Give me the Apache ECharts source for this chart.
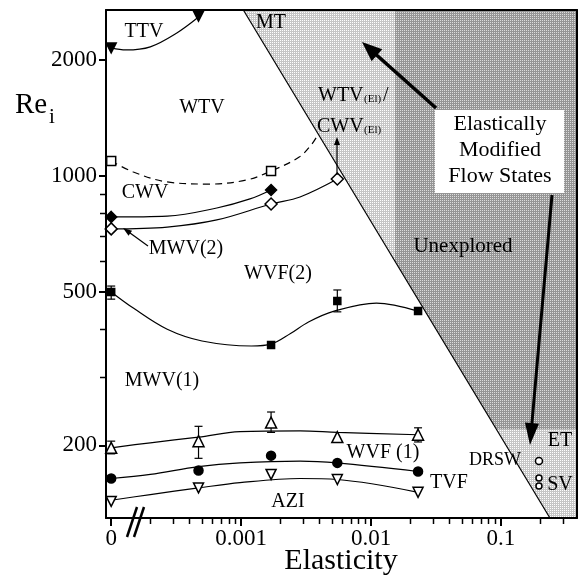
<!DOCTYPE html>
<html>
<head>
<meta charset="utf-8" />
<title>Re_i vs Elasticity</title>
<style>
  html, body { margin: 0; padding: 0; background: #fff; }
  #chart { width: 579px; height: 587px; }
</style>
</head>
<body>
<div id="chart"></div>
<script src="https://cdn.jsdelivr.net/npm/echarts@6.0.0/dist/echarts.min.js"></script>
<script>
// ---- data (elasticity, Re_i) ----
var ttvPts   = [[0, 2150], [0.00047, 2600]];
var ttvFit   = [[0, 2150], [0.00013, 2124], [0.0002, 2164], [0.00032, 2351], [0.00047, 2586]];
var cwvPts   = [[0, 1094], [0.0017, 1030]];
var cwvFit   = [[0, 1094], [0.000148, 1024], [0.00027, 965], [0.00058, 953], [0.00111, 977], [0.0017, 1030], [0.0028, 1120], [0.0035, 1210], [0.0039, 1280]];
var fdPts    = [[0, 783], [0.0017, 920]];
var fdFit    = [[0, 783], [0.00027, 787], [0.00065, 826], [0.00117, 872], [0.0017, 920]];
var mwv2Pts  = [[0, 729], [0.0017, 846], [0.0055, 982]];
var mwv2Fit  = [[0, 729], [0.00027, 737], [0.00065, 769], [0.0017, 846], [0.00284, 882], [0.0055, 982]];
var wvf2Pts  = [[0, 500], [0.0017, 364], [0.0055, 474], [0.023, 446]];
var wvf2Err  = [[0, 479, 518], [0.0055, 444, 506]];
var wvf2Fit  = [[0, 500], [0.000148, 454], [0.00027, 400], [0.0005, 373], [0.0012, 362], [0.0017, 366], [0.0024, 390], [0.0033, 418], [0.0052, 446], [0.011, 468], [0.023, 446]];
var wvf1Pts  = [[0, 197], [0.00047, 205], [0.0017, 229], [0.0055, 210], [0.023, 213]];
var wvf1Err  = [[0, 190, 205], [0.00047, 185, 224], [0.0017, 216, 244], [0.023, 204, 222]];
var wvf1Fit  = [[0, 197], [0.0002, 203], [0.00047, 210], [0.00098, 217], [0.00284, 218], [0.0055, 216], [0.023, 213]];
var tvfPts   = [[0, 164], [0.00047, 172], [0.0017, 188], [0.0055, 180], [0.023, 171]];
var tvfFit   = [[0, 164], [0.0002, 168], [0.00047, 176], [0.00098, 180], [0.00284, 182], [0.0055, 180], [0.023, 171]];
var aziPts   = [[0, 143], [0.00047, 155], [0.0017, 168], [0.0055, 163], [0.023, 151]];
var aziFit   = [[0, 144], [0.0002, 149], [0.00047, 155], [0.00098, 160], [0.00284, 164], [0.0055, 163], [0.023, 151]];
var etPts    = [[0.196, 182]];
var svPts    = [[0.196, 164.5], [0.196, 156.8]];
var diagLine = [[0.00104, 2697], [0.238, 129.5]];
var mtEdge   = 0.0153;   // light / dark boundary (elasticity)
var etEdge   = 220;      // dark / light boundary at bottom right (Re)

var xMajor   = [-4, -3, -2, -1];
var xLabels  = { '-4': '0', '-3': '0.001', '-2': '0.01', '-1': '0.1' };
var xMinorMul = [2, 3, 4, 5, 6, 7, 8, 9];
var yMajor   = [200, 500, 1000, 2000];
var yMinor   = [300, 400, 600, 700, 800, 900];

// ---- axis mapping: log10 both ways, zero drawn one decade left of 0.001 ----
var ZERO_POS = -4;
var xRange = [-4.04, -0.415];
var reRange = [129.5, 2697];
function xp(e) { return e === 0 ? ZERO_POS : Math.log10(e); }
function yp(r) { return Math.log10(r); }
function toXY(arr) { return arr.map(function (p) { return [xp(p[0]), yp(p[1])]; }); }

var xMinor = [];
[-4, -3, -2, -1].forEach(function (d) {
  xMinorMul.forEach(function (k) {
    var v = Math.log10(k) + d;
    if (v < xRange[1]) xMinor.push(v);
  });
});

var FONT = '"Liberation Serif", "Times New Roman", serif';

function pattern(c1, c2) {
  var cv = document.createElement('canvas');
  cv.width = 2; cv.height = 2;
  var ctx = cv.getContext('2d');
  ctx.fillStyle = c2; ctx.fillRect(0, 0, 2, 2);
  ctx.fillStyle = c1; ctx.fillRect(0, 0, 1, 1);
  return { image: cv, repeat: 'repeat' };
}
var lightFill = pattern('#ffffff', '#c6c6c6');
var darkFill = pattern('#dcdcdc', '#959595');

var regions = [
  { fill: lightFill, pts: [[1e-5, 1e4], [1, 1e4], [1, 100], [1e-5, 100]] },
  { fill: darkFill,  pts: [[mtEdge, 1e4], [1, 1e4], [1, etEdge], [mtEdge, etEdge]] },
  { fill: '#ffffff', pts: [[1e-5, 1e4], [diagLine[0][0], 1e4], diagLine[0], diagLine[1], [diagLine[1][0], 100], [1e-5, 100]] }
];

function curve(data, dashed) {
  return {
    type: 'line', data: toXY(data), smooth: 0.35, symbol: 'none', z: 3, silent: true,
    lineStyle: { color: '#000', width: 1.2, type: dashed ? [7, 5] : 'solid' }
  };
}
function pts(data, symbol, size, filled, rotate) {
  return {
    type: 'scatter', data: toXY(data), symbol: symbol, symbolSize: size, symbolRotate: rotate || 0, z: 5,
    itemStyle: { color: filled ? '#000' : '#fff', borderColor: '#000', borderWidth: 1.5, opacity: 1 }
  };
}
function errBars(data) {
  return {
    type: 'custom', z: 4, silent: true,
    data: data.map(function (d) { return [xp(d[0]), yp(d[1]), yp(d[2])]; }),
    encode: { x: 0, y: [1, 2] },
    renderItem: function (params, api) {
      var lo = api.coord([api.value(0), api.value(1)]);
      var hi = api.coord([api.value(0), api.value(2)]);
      var w = 4, st = { stroke: '#000', lineWidth: 1.2 };
      return { type: 'group', children: [
        { type: 'line', shape: { x1: lo[0], y1: lo[1], x2: hi[0], y2: hi[1] }, style: st },
        { type: 'line', shape: { x1: lo[0] - w, y1: lo[1], x2: lo[0] + w, y2: lo[1] }, style: st },
        { type: 'line', shape: { x1: hi[0] - w, y1: hi[1], x2: hi[0] + w, y2: hi[1] }, style: st }
      ]};
    }
  };
}

function txt(s, x, y, size, align) {
  return { type: 'text', x: x, y: y, z: 100,
    style: { text: s, fontSize: size, fontFamily: FONT, fill: '#000', align: align || 'center', verticalAlign: 'middle' } };
}
function arrow(x1, y1, x2, y2, w, hl, hw) {
  var dx = x2 - x1, dy = y2 - y1, L = Math.sqrt(dx * dx + dy * dy);
  var ux = dx / L, uy = dy / L, bx = x2 - ux * hl, by = y2 - uy * hl;
  return { type: 'group', z: 100, children: [
    { type: 'line', z: 100, shape: { x1: x1, y1: y1, x2: bx + ux * 2, y2: by + uy * 2 }, style: { stroke: '#000', lineWidth: w } },
    { type: 'polygon', z: 100, shape: { points: [[x2, y2], [bx - uy * hw / 2, by + ux * hw / 2], [bx + uy * hw / 2, by - ux * hw / 2]] }, style: { fill: '#000' } }
  ]};
}

var frameLine = { lineStyle: { color: '#000', width: 2 } };

var annotations = [
  txt('Re', 15, 105, 29, 'left'),
  txt('i', 49, 117, 21, 'left'),
  txt('Elasticity', 341, 561, 30),
  txt('TTV', 144, 32, 20),
  txt('MT', 271, 23, 20),
  txt('WTV', 202, 108, 20),
  txt('CWV', 145, 193, 20),
  txt('MWV(2)', 186, 249, 20),
  txt('WVF(2)', 278, 274, 20),
  txt('MWV(1)', 162, 381, 20),
  txt('WVF (1)', 383, 453, 20),
  txt('TVF', 449, 483, 20),
  txt('AZI', 288, 502, 20),
  txt('DRSW', 495, 460, 18),
  txt('ET', 560, 441, 20),
  txt('SV', 560, 485, 20),
  txt('Unexplored', 463, 246, 21),
  txt('WTV', 318, 96, 20, 'left'),
  txt('(El)', 364, 99, 11, 'left'),
  txt('/', 383, 96, 20, 'left'),
  txt('CWV', 317, 127, 20, 'left'),
  txt('(El)', 364, 130, 11, 'left'),
  { type: 'rect', z: 99, shape: { x: 435, y: 110, width: 129, height: 83 }, style: { fill: '#fff' } },
  txt('Elastically', 500, 124, 22),
  txt('Modified', 500, 150, 22),
  txt('Flow States', 500, 176, 22),
  arrow(436, 108, 362, 42, 3.5, 20, 16),
  arrow(552, 195, 530, 445, 3, 22, 14),
  arrow(148, 246, 123, 228, 1.2, 9, 6),
  arrow(337, 175, 337, 137, 1.2, 8, 6),
  { type: 'line', z: 100, shape: { x1: 127, y1: 537, x2: 137, y2: 507 }, style: { stroke: '#000', lineWidth: 2.5 } },
  { type: 'line', z: 100, shape: { x1: 134, y1: 537, x2: 144, y2: 507 }, style: { stroke: '#000', lineWidth: 2.5 } }
];

var chart = echarts.init(document.getElementById('chart'));
var option = {
  animation: false,
  backgroundColor: '#fff',
  grid: { left: 106, right: 2, top: 10, bottom: 69 },
  xAxis: [
    { type: 'value', min: xRange[0], max: xRange[1], position: 'bottom', z: 11,
      axisLine: frameLine,
      axisTick: { show: true, customValues: xMajor, length: 8, lineStyle: { color: '#000', width: 2 } },
      axisLabel: { customValues: xMajor, margin: 9, fontSize: 23, fontFamily: FONT, color: '#000',
        formatter: function (v) { return xLabels[String(Math.round(v))]; } },
      splitLine: { show: false } },
    { type: 'value', min: xRange[0], max: xRange[1], position: 'top', z: 10,
      axisLine: frameLine,
      axisTick: { show: false }, axisLabel: { show: false }, splitLine: { show: false } }
  ],
  yAxis: [
    { type: 'value', min: yp(reRange[0]), max: yp(reRange[1]), position: 'left', z: 11,
      axisLine: frameLine,
      axisTick: { show: true, customValues: yMajor.map(yp), length: 7, lineStyle: { color: '#000', width: 2 } },
      axisLabel: { customValues: yMajor.map(yp), margin: 9, fontSize: 23, fontFamily: FONT, color: '#000',
        formatter: function (v) { return String(Math.round(Math.pow(10, v))); } },
      splitLine: { show: false } },
    { type: 'value', min: yp(reRange[0]), max: yp(reRange[1]), position: 'right', z: 10,
      axisLine: frameLine,
      axisTick: { show: false }, axisLabel: { show: false }, splitLine: { show: false } }
  ],
  series: [
    { type: 'custom', z: 1, silent: true, clip: true,
      data: regions.map(function (r, i) { return [i]; }),
      renderItem: function (params, api) {
        var r = regions[params.dataIndex];
        return { type: 'polygon', shape: { points: r.pts.map(function (p) { return api.coord([xp(p[0]), yp(p[1])]); }) },
          style: { fill: r.fill } };
      } },
    { type: 'line', data: toXY(diagLine), symbol: 'none', z: 2, silent: true,
      lineStyle: { color: '#000', width: 1.2 } },
    curve(ttvFit), curve(cwvFit, true), curve(fdFit), curve(mwv2Fit), curve(wvf2Fit),
    curve(wvf1Fit), curve(tvfFit), curve(aziFit),
    errBars(wvf2Err), errBars(wvf1Err),
    pts(ttvPts, 'triangle', 10, true, 180),
    pts(cwvPts, 'rect', 9, false),
    pts(fdPts, 'diamond', 11, true),
    pts(mwv2Pts, 'diamond', 12, false),
    pts(wvf2Pts, 'rect', 7, true),
    pts(wvf1Pts, 'triangle', 11, false),
    pts(tvfPts, 'circle', 9, true),
    pts(aziPts, 'triangle', 10, false, 180),
    pts(etPts, 'circle', 7, false),
    pts(svPts, 'circle', 6, false)
  ],
  graphic: annotations
};
chart.setOption(option);

// minor log ticks: positions come from the axis scales after layout
var tickEls = [];
var axisBottom = chart.convertToPixel({ yAxisIndex: 0 }, yp(reRange[0]));
var axisLeft = chart.convertToPixel({ xAxisIndex: 0 }, xRange[0]);
xMinor.forEach(function (v) {
  var px = Math.round(chart.convertToPixel({ xAxisIndex: 0 }, v)) + 0.5;
  tickEls.push({ type: 'line', z: 120, silent: true,
    shape: { x1: px, y1: axisBottom, x2: px, y2: axisBottom + 6 },
    style: { stroke: '#000', lineWidth: 1.5 } });
});
yMinor.forEach(function (r) {
  var py = Math.round(chart.convertToPixel({ yAxisIndex: 0 }, yp(r))) + 0.5;
  tickEls.push({ type: 'line', z: 120, silent: true,
    shape: { x1: axisLeft, y1: py, x2: axisLeft - 6, y2: py },
    style: { stroke: '#000', lineWidth: 1.5 } });
});
chart.setOption({ graphic: annotations.concat(tickEls) });
</script>
</body>
</html>
